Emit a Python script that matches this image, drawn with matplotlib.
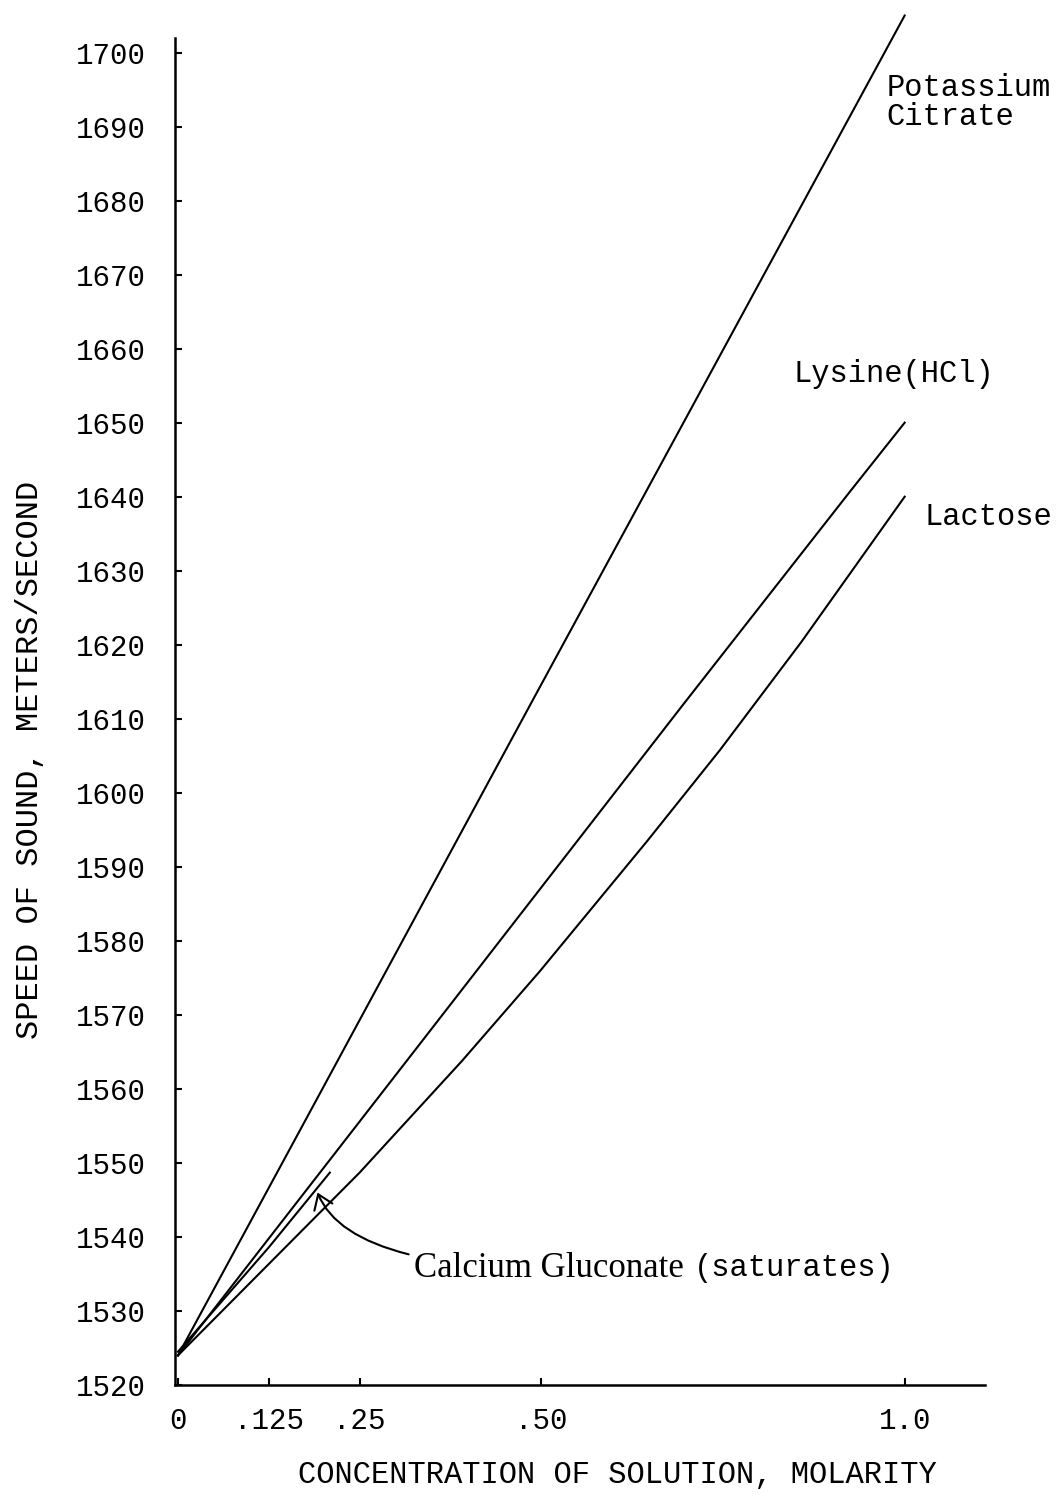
import matplotlib
matplotlib.use("Agg")
import matplotlib.pyplot as plt

# values
conc_citrate = [0, 0.175, 0.487, 1.0]
speed_citrate = [1524, 1555.7, 1612.3, 1705]

conc_lysine = [0, 0.25, 0.371, 0.695, 0.924, 1.0]
speed_lysine = [1524, 1555.6, 1570.9, 1611.9, 1640.6, 1650]

conc_lactose = [0, 0.25, 0.391, 0.498, 0.645, 0.746, 0.858, 1.0]
speed_lactose = [1524, 1548.7, 1563.8, 1575.9, 1593.4, 1605.8, 1620.4, 1640]

conc_gluconate = [0, 0.125, 0.209]
speed_gluconate = [1524.5, 1538.6, 1548.7]

x_ticks = [0, 0.125, 0.25, 0.5, 1.0]
x_tick_labels = ["0", ".125", ".25", ".50", "1.0"]
y_ticks = list(range(1520, 1701, 10))

MONO = "Liberation Mono"
SERIF = "Liberation Serif"

fig = plt.figure(figsize=(10.61, 14.97), dpi=100)
ax = fig.add_axes([0.165, 0.0748, 0.763, 0.9])

lw = 1.5
ax.plot(conc_citrate, speed_citrate, color="black", lw=lw, clip_on=False)
ax.plot(conc_lysine, speed_lysine, color="black", lw=lw)
ax.plot(conc_lactose, speed_lactose, color="black", lw=lw)
ax.plot(conc_gluconate, speed_gluconate, color="black", lw=lw)

ax.set_xlim(-0.004, 1.11)
ax.set_ylim(1520, 1702)

for side in ("top", "right"):
    ax.spines[side].set_visible(False)
for side in ("left", "bottom"):
    ax.spines[side].set_linewidth(1.8)

ax.set_xticks(x_ticks)
ax.set_xticklabels(x_tick_labels, fontfamily=MONO, fontsize=21)
ax.set_yticks(y_ticks)
ax.set_yticklabels([str(v) for v in y_ticks], fontfamily=MONO, fontsize=21)
ax.tick_params(axis="y", direction="in", length=5, width=1.5, pad=21)
ax.tick_params(axis="x", direction="in", length=5, width=1.5, pad=16)

# axis titles placed where the scan has them
fig.text(30 / 1061, 1 - 760 / 1497, "SPEED OF SOUND, METERS/SECOND",
         fontfamily=MONO, fontsize=23, rotation=90, ha="center", va="center")
fig.text(617 / 1061, 1 - 1475 / 1497, "CONCENTRATION OF SOLUTION, MOLARITY",
         fontfamily=MONO, fontsize=22, ha="center", va="center")

# curve labels
ax.text(0.975, 1693.2, "Potassium\nCitrate", fontfamily=MONO, fontsize=22,
        ha="left", va="center", linespacing=0.95)
ax.text(0.847, 1656.6, "Lysine(HCl)", fontfamily=MONO, fontsize=22,
        ha="left", va="center")
ax.text(1.027, 1637.3, "Lactose", fontfamily=MONO, fontsize=22,
        ha="left", va="center")

# calcium gluconate callout
ax.annotate("Calcium Gluconate", xy=(0.192, 1546.0), xytext=(0.325, 1535.8),
            fontfamily=SERIF, fontsize=25, ha="left", va="center",
            arrowprops=dict(arrowstyle="->,head_length=0.5,head_width=0.35",
                            color="black", lw=1.5, mutation_scale=20,
                            shrinkA=2, shrinkB=0,
                            connectionstyle="angle3,angleA=0,angleB=112"))
ax.text(0.71, 1535.8, "(saturates)", fontfamily=MONO, fontsize=22,
        ha="left", va="center")

fig.savefig("out.png", dpi=100)
